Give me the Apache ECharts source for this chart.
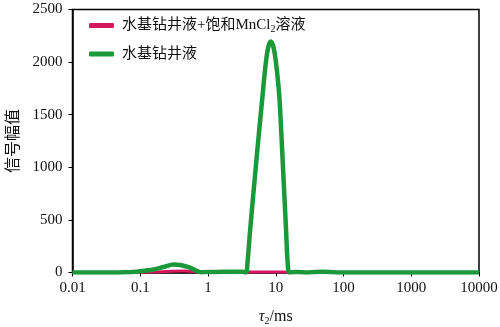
<!DOCTYPE html>
<html>
<head>
<meta charset="utf-8">
<script src="https://cdn.jsdelivr.net/npm/echarts@6/dist/echarts.min.js"></script>
<style>html,body{margin:0;padding:0;background:#fff}#c{width:500px;height:327px}</style>
</head>
<body>
<div id="c"></div>
<script>
// Data
const seriesNames = ['水基钻井液+饱和MnCl2溶液', '水基钻井液'];
const xTickLabels = ['0.01', '0.1', '1', '10', '100', '1000', '10000'];
const yTickLabels = ['0', '500', '1000', '1500', '2000', '2500'];

const tauPink = [0.01, 0.05, 0.1, 0.2, 0.3, 0.45, 0.6, 0.8, 1, 2, 3.6, 5, 8.4, 13, 16, 30, 100, 1000, 10000];
const valPink = [0, 0, 2, 6, 12, 14, 10, 3, 2, 3, 4, 5, 5, 5, 2, 0, 0, 0, 0];

const tauGreen = [0.01, 0.03, 0.062, 0.1, 0.157, 0.22, 0.31, 0.39, 0.52, 0.66, 0.78, 1, 2, 3.2, 3.65, 3.82, 4.19, 5.13, 6.36, 7.12, 7.78, 8.44, 9.22, 10.1, 11.3, 12.7, 14.2, 15.0, 15.9, 20, 30, 50, 80, 200, 1000, 10000];
const valGreen = [0, 0, 2, 12, 28, 52, 76, 72, 50, 20, 2, 5, 8, 8, 0, 87, 404, 1038, 1671, 1989, 2147, 2195, 2147, 1989, 1671, 1038, 404, 87, 0, 4, 0, 8, 0, 0, 0, 0];

const pinkData = tauPink.map((t, i) => [t, valPink[i]]);
const greenData = tauGreen.map((t, i) => [t, valGreen[i]]);

const FONT = '"Liberation Serif", "Noto Sans CJK SC", serif';

const chart = echarts.init(document.getElementById('c'), null, {renderer: 'canvas'});
chart.setOption({
  backgroundColor: '#fff',
  animation: false,
  grid: {
    left: 72.5, right: 21, top: 9.5, bottom: 54.5,
    outerBoundsMode: 'none', containLabel: false,
    show: true, borderColor: '#000', borderWidth: 1.5, backgroundColor: 'transparent'
  },
  legend: {
    left: 84, top: 13, orient: 'vertical', itemGap: 12,
    icon: 'roundRect', itemWidth: 25, itemHeight: 5,
    textStyle: {
      fontFamily: FONT, fontSize: 15, color: '#111', padding: [0, 0, 0, 3],
      rich: {
        a: {fontFamily: FONT, fontSize: 15, color: '#111'},
        s: {fontFamily: FONT, fontSize: 10, color: '#111', verticalAlign: 'bottom', padding: [8, 0, 0, 0]}
      }
    },
    formatter: function (name) {
      if (name === seriesNames[0]) return '{a|水基钻井液+饱和MnCl}{s|2}{a|溶液}';
      return '{a|' + name + '}';
    },
    data: seriesNames
  },
  xAxis: {
    type: 'log', logBase: 10, min: 0.01, max: 10000,
    name: '{t|τ}{s|2}{m|/ms}', nameLocation: 'middle', nameGap: 34,
    nameTextStyle: {
      rich: {
        t: {fontFamily: FONT, fontSize: 16, fontStyle: 'italic', color: '#111'},
        s: {fontFamily: FONT, fontSize: 10, color: '#111', verticalAlign: 'bottom', padding: [10, 0, 0, 0]},
        m: {fontFamily: FONT, fontSize: 16, color: '#111'}
      }
    },
    axisLine: {show: true, lineStyle: {color: '#000', width: 1.5}},
    axisTick: {show: true, length: 4, lineStyle: {color: '#000'}},
    axisLabel: {
      margin: 8, fontFamily: FONT, fontSize: 15, color: '#111',
      formatter: function (v) {
        const e = Math.round(Math.log10(v));
        return xTickLabels[e + 2] !== undefined ? xTickLabels[e + 2] : '';
      }
    },
    splitLine: {show: false},
    minorTick: {show: false}
  },
  yAxis: {
    type: 'value', min: 0, max: 2500, interval: 500,
    name: '信号幅值', nameLocation: 'middle', nameGap: 51,
    nameTextStyle: {fontFamily: FONT, fontSize: 16, color: '#111'},
    axisLine: {show: true, lineStyle: {color: '#000', width: 1.5}},
    axisTick: {show: true, length: 4, lineStyle: {color: '#000'}},
    axisLabel: {
      margin: 10, fontFamily: FONT, fontSize: 15, color: '#111',
      formatter: function (v) { return yTickLabels[Math.round(v / 500)]; }
    },
    splitLine: {show: false}
  },
  series: [
    {
      name: seriesNames[0], type: 'line', data: pinkData, smooth: 0.3,
      showSymbol: false, symbol: 'none',
      itemStyle: {color: '#d4175f'},
      lineStyle: {color: '#d4175f', width: 3}
    },
    {
      name: seriesNames[1], type: 'line', data: greenData, smooth: 0.3,
      showSymbol: false, symbol: 'none',
      itemStyle: {color: '#1a983a'},
      lineStyle: {color: '#1a983a', width: 4.5}
    }
  ]
});
</script>
</body>
</html>
